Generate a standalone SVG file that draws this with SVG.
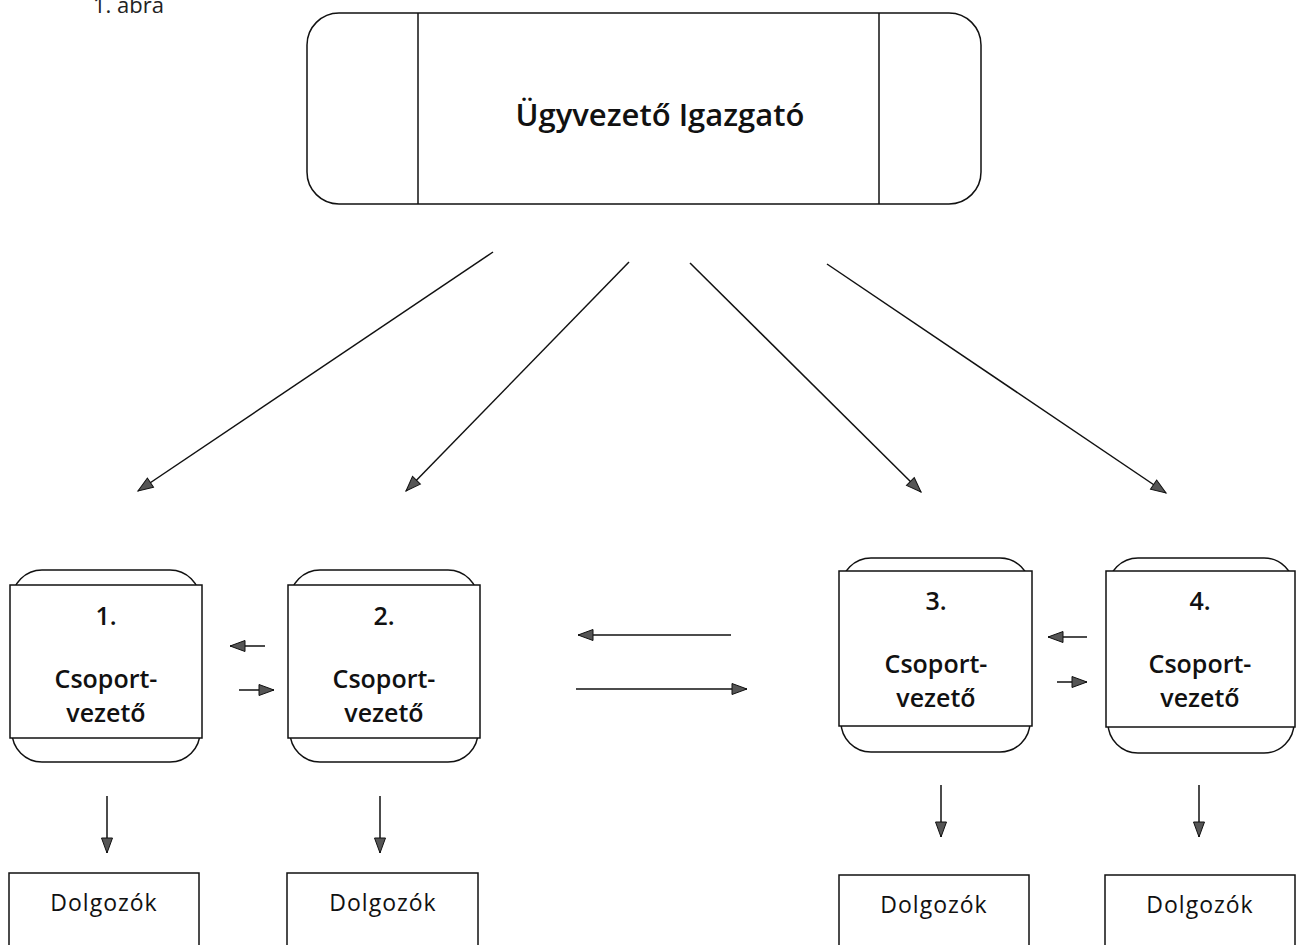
<svg xmlns="http://www.w3.org/2000/svg" width="1296" height="945" viewBox="0 0 1296 945">
<style>
.bg{fill:#fff}
.shape{fill:#fff;stroke:#111;stroke-width:1.5}
.conn{stroke:#111;stroke-width:1.5;fill:none;marker-end:url(#arr)}
.t{font-family:"Open Sans","Noto Sans",sans-serif;fill:#111;text-anchor:middle}
.b{font-weight:600;font-size:25px}
.title{font-weight:600;font-size:31px}
.w{font-size:23px;letter-spacing:1px}
.cap{font-family:"Open Sans","Noto Sans",sans-serif;font-size:22px;fill:#222}
</style>
<defs>
<marker id="arr" markerUnits="userSpaceOnUse" markerWidth="18" markerHeight="14" refX="15" refY="5.5" orient="auto" overflow="visible">
<path d="M0,0 L15,5.5 L0,11 Z" fill="#555" stroke="#111" stroke-width="1"/>
</marker>
</defs>
<rect class="bg" x="0" y="0" width="1296" height="945"/>
<text class="cap" x="93" y="13">1. ábra</text>

<g id="igazgato">
<rect class="shape" x="307" y="13" width="674" height="191" rx="32" ry="32"/>
<line x1="418" y1="13" x2="418" y2="204" stroke="#111" stroke-width="1.5"/>
<line x1="879" y1="13" x2="879" y2="204" stroke="#111" stroke-width="1.5"/>
<text class="t title" x="660" y="126">Ügyvezető Igazgató</text>
</g>

<g id="csoport1">
<rect class="shape" x="12" y="570" width="188" height="192" rx="30" ry="30"/>
<rect class="shape" x="10" y="585" width="192" height="153"/>
<text class="t b" x="106" y="625">1.</text>
<text class="t b" x="106" y="688">Csoport-</text>
<text class="t b" x="106" y="722">vezető</text>
</g>

<g id="csoport2">
<rect class="shape" x="290" y="570" width="188" height="192" rx="30" ry="30"/>
<rect class="shape" x="288" y="585" width="192" height="153"/>
<text class="t b" x="384" y="625">2.</text>
<text class="t b" x="384" y="688">Csoport-</text>
<text class="t b" x="384" y="722">vezető</text>
</g>

<g id="csoport3">
<rect class="shape" x="841" y="558" width="189" height="194" rx="30" ry="30"/>
<rect class="shape" x="839" y="571" width="193" height="155"/>
<text class="t b" x="936" y="610">3.</text>
<text class="t b" x="936" y="673">Csoport-</text>
<text class="t b" x="936" y="707">vezető</text>
</g>

<g id="csoport4">
<rect class="shape" x="1108" y="558" width="186" height="195" rx="30" ry="30"/>
<rect class="shape" x="1106" y="571" width="189" height="156"/>
<text class="t b" x="1200" y="610">4.</text>
<text class="t b" x="1200" y="673">Csoport-</text>
<text class="t b" x="1200" y="707">vezető</text>
</g>

<g id="dolgozok1">
<rect class="shape" x="9" y="873" width="190" height="80"/>
<text class="t w" x="104" y="911">Dolgozók</text>
</g>
<g id="dolgozok2">
<rect class="shape" x="287" y="873" width="191" height="80"/>
<text class="t w" x="383" y="911">Dolgozók</text>
</g>
<g id="dolgozok3">
<rect class="shape" x="839" y="875" width="190" height="80"/>
<text class="t w" x="934" y="913">Dolgozók</text>
</g>
<g id="dolgozok4">
<rect class="shape" x="1105" y="875" width="190" height="80"/>
<text class="t w" x="1200" y="913">Dolgozók</text>
</g>

<g id="connectors">
<line class="conn" x1="493" y1="252" x2="138" y2="491"/>
<line class="conn" x1="629" y1="262" x2="406" y2="491"/>
<line class="conn" x1="690" y1="263" x2="921" y2="492"/>
<line class="conn" x1="827" y1="264" x2="1166" y2="493"/>

<line class="conn" x1="265" y1="646" x2="230" y2="646"/>
<line class="conn" x1="239" y1="690" x2="274" y2="690"/>
<line class="conn" x1="731" y1="635" x2="578" y2="635"/>
<line class="conn" x1="576" y1="689" x2="747" y2="689"/>
<line class="conn" x1="1087" y1="637" x2="1048" y2="637"/>
<line class="conn" x1="1057" y1="682" x2="1087" y2="682"/>

<line class="conn" x1="107" y1="796" x2="107" y2="853"/>
<line class="conn" x1="380" y1="796" x2="380" y2="853"/>
<line class="conn" x1="941" y1="785" x2="941" y2="837"/>
<line class="conn" x1="1199" y1="785" x2="1199" y2="837"/>
</g>
</svg>
